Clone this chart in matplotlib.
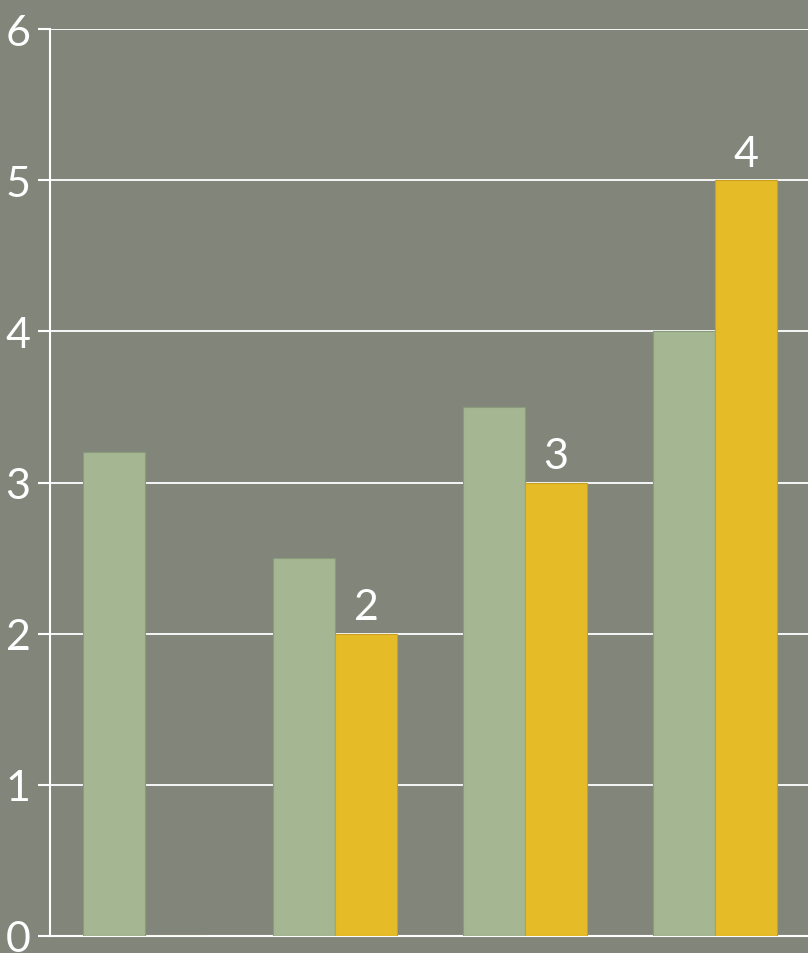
import matplotlib.pyplot as plt
import numpy as np

# ------------------------------------------------------------
# Data
# ------------------------------------------------------------
categories = ["A", "B", "C", "D"]
green_values = [3.2, 2.5, 3.5, 4.0]
yellow_values = [0, 2, 3, 5]
yellow_labels = ["", "2", "3", "4"]
y_ticks = [0, 1, 2, 3, 4, 5, 6]

bg = "#82867a"
green = "#a4b692"
yellow = "#e5bb28"
font = ["Lato", "DejaVu Sans"]

fig = plt.figure(figsize=(8.08, 9.54), dpi=100, facecolor=bg)
ax = fig.add_axes([50 / 808, 17 / 954, 760 / 808, 907 / 954], facecolor=bg)

x = np.arange(len(categories))
w = 0.327
ax.bar(x - w / 2, green_values, w, color=green, edgecolor="#8a9a7c", linewidth=0.8, zorder=3)
ax.bar(x + w / 2, yellow_values, w, color=yellow, edgecolor="#c9a020", linewidth=0.8, zorder=3)

for xi, v, lab in zip(x, yellow_values, yellow_labels):
    if lab:
        ax.text(xi + w / 2, v + 0.05, lab, ha="center", va="bottom",
                fontsize=31, color="white", family=font)

ax.set_xlim(-0.5, 3.5)
ax.set_ylim(0, 6)
ax.set_yticks(y_ticks)
ax.set_yticklabels([str(t) for t in y_ticks], fontsize=31, color="white", family=font)
ax.set_xticks([])
ax.tick_params(axis="y", colors="white", length=9, width=1.5, pad=5)
ax.grid(axis="y", color="white", linewidth=1.3, zorder=1)
for side in ["top", "right"]:
    ax.spines[side].set_visible(False)
ax.spines["left"].set_color("white")
ax.spines["left"].set_linewidth(1.5)
ax.spines["bottom"].set_color("white")
ax.spines["bottom"].set_linewidth(1.5)

plt.savefig("out.png", dpi=100, facecolor=bg)
